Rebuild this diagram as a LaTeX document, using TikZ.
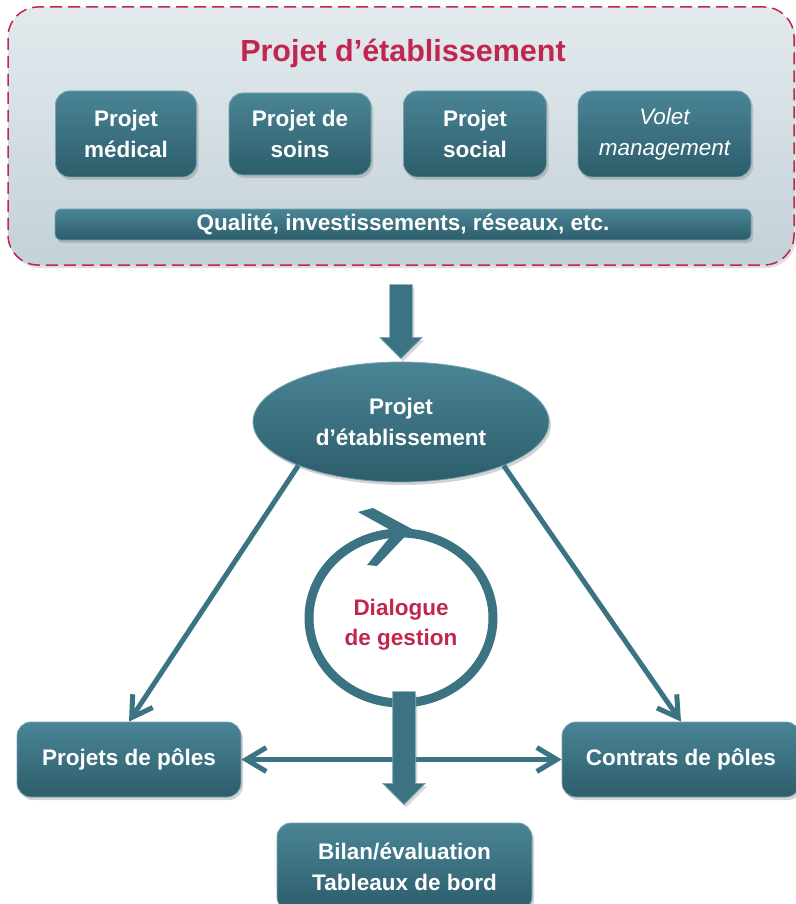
\documentclass[tikz,border=0pt]{standalone}
\usepackage{fontspec}
\setmainfont{Liberation Sans}
\usetikzlibrary{shapes.geometric,shapes.arrows,arrows.meta,shadows}
\definecolor{tealTop}{HTML}{4A8595}
\definecolor{tealBot}{HTML}{2C5D6B}
\definecolor{tealLine}{HTML}{3C7382}
\definecolor{crimson}{HTML}{C0264E}
\definecolor{paleTop}{HTML}{E3EAEE}
\definecolor{paleBot}{HTML}{C3D1D8}
\begin{document}
\begin{tikzpicture}
[x=1pt,y=-1pt,
  boxDecorate/.style={shape=rectangle,rounded corners=14pt,draw=tealTop!75!white,line width=0.8pt,
    top color=tealTop,bottom color=tealBot,text=white,align=center,inner sep=0pt,
    font=\bfseries\fontsize{22.5}{31}\selectfont,
    drop shadow={opacity=0.35,shadow xshift=2pt,shadow yshift=-3pt}},
  lineDecorate/.style={draw=tealLine,line width=5pt},
  blockDecorate/.style={shape=single arrow,shape border rotate=270,single arrow head extend=10pt,
    single arrow tip angle=90,inner sep=11pt,
    fill=tealLine,draw=tealTop!70!white,line width=0.6pt,
    drop shadow={opacity=0.3,shadow xshift=2pt,shadow yshift=-3pt}}]
\useasboundingbox (0,0) rectangle (795,904);
%% frame of the project
\node (etab) at (401,136) [shape=rectangle,rounded corners=30pt,draw=crimson,line width=1.5pt,
  dash pattern=on 12pt off 6pt,top color=paleTop,bottom color=paleBot,
  minimum width=786pt,minimum height=258pt,
  drop shadow={opacity=0.25,shadow xshift=2pt,shadow yshift=-3pt}] {};
\node (titre) at (403,53) [text=crimson,font=\bfseries\fontsize{30.5}{36}\selectfont] {Projet d’établissement};
%% the four projects
\foreach \nodename/\x/\w/\h/\fnt/\txt in {
  med/126/141/86/\bfseries/Projet\\médical,
  soins/300/142/82/\bfseries/Projet de\\soins,
  soc/475/143/86/\bfseries/Projet\\social,
  mgt/664.5/173/86/\mdseries\itshape/Volet\\management}
{
  \node (\nodename) at (\x,134) [boxDecorate,font=\fnt\fontsize{22.5}{31}\selectfont,
    minimum width=\w pt,minimum height=\h pt] {\txt};
}
\node (qual) at (403,224.5) [boxDecorate,rounded corners=6pt,minimum width=696pt,minimum height=31pt]
  {Qualité, investissements, réseaux, etc.};
%% lower part
\node (ell) at (401,422) [boxDecorate,shape=ellipse,minimum width=296pt,minimum height=120pt]
  {Projet\\d’établissement};
\node (fleche1) at (401,316) [blockDecorate,minimum height=74pt] {};
\node (cycle) at (401,618) [shape=ellipse,draw=tealLine,line width=9pt,minimum width=184pt,minimum height=170pt] {};
\fill[tealLine] (358,512) -- (373,508) -- (412,529) -- (377,566) -- (367,565) -- (394,532) -- cycle;
\node (dlg) at (401,625) [text=crimson,align=center,font=\bfseries\fontsize{22.5}{30}\selectfont] {Dialogue\\de gestion};
\node (pp) at (129,759.5) [boxDecorate,minimum width=224pt,minimum height=75pt] {Projets de pôles};
\node (cp) at (681,759.5) [boxDecorate,minimum width=238pt,minimum height=75pt] {Contrats de pôles};
\node (bilan) at (404.5,867) [boxDecorate,minimum width=255pt,minimum height=88pt] {Bilan/évaluation\\Tableaux de bord};
%% edges or lines
\path
\foreach \startnode/\endnode in {ell.203/pp.north, ell.-23/cp.north}
{
  (\startnode) edge[lineDecorate,-{Straight Barb[length=20pt,width=24pt]}] (\endnode)
};
\draw[lineDecorate,{Straight Barb[length=20pt,width=24pt]}-{Straight Barb[length=20pt,width=24pt]}] (pp) -- (cp);
\node (fleche2) at (404,742.5) [blockDecorate,minimum height=113pt] {};
\end{tikzpicture}
\end{document}
